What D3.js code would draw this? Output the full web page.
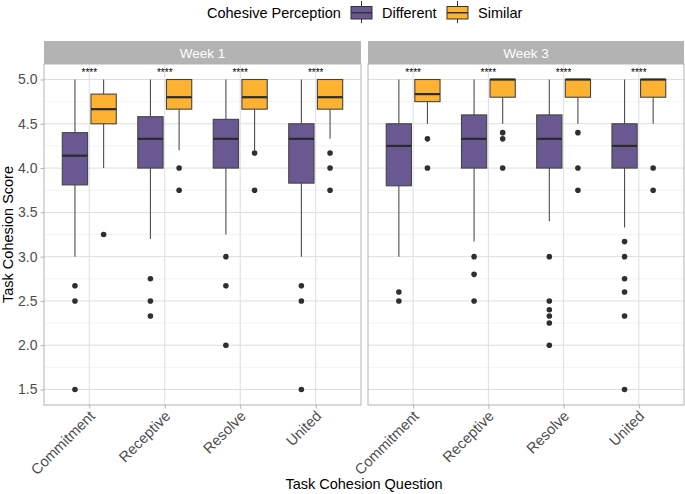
<!DOCTYPE html>
<html><head><meta charset="utf-8">
<script src="https://cdn.jsdelivr.net/npm/d3@7"></script>
<style>body{margin:0;background:#fff}text{font-family:"Liberation Sans",Arial,sans-serif}</style>
</head><body><svg id="c" width="685" height="494"></svg>
<script>
const weeks = ["Week 1", "Week 3"];
const questions = ["Commitment", "Receptive", "Resolve", "United"];
const groups = ["Different", "Similar"];
const groupColors = ["#6A5892", "#FDB231"];
const yTicks = [1.5, 2.0, 2.5, 3.0, 3.5, 4.0, 4.5, 5.0];
const sigLabel = "****";
// box stats: [week, question, group, lowerWhisker, q1, median, q3, upperWhisker]
const boxStats = [
  ["Week 1","Commitment","Different",3.0,3.81,4.14,4.40,5.0],
  ["Week 1","Commitment","Similar",4.0,4.5,4.665,4.835,5.0],
  ["Week 1","Receptive","Different",3.2,4.0,4.33,4.58,5.0],
  ["Week 1","Receptive","Similar",4.2,4.665,4.8,5.0,5.0],
  ["Week 1","Resolve","Different",3.25,4.0,4.33,4.55,5.0],
  ["Week 1","Resolve","Similar",4.2,4.665,4.8,5.0,5.0],
  ["Week 1","United","Different",3.0,3.83,4.33,4.5,5.0],
  ["Week 1","United","Similar",4.33,4.665,4.8,5.0,5.0],
  ["Week 3","Commitment","Different",3.0,3.8,4.25,4.5,5.0],
  ["Week 3","Commitment","Similar",4.5,4.75,4.835,5.0,5.0],
  ["Week 3","Receptive","Different",3.17,4.0,4.33,4.6,5.0],
  ["Week 3","Receptive","Similar",4.5,4.8,5.0,5.0,5.0],
  ["Week 3","Resolve","Different",3.4,4.0,4.33,4.6,5.0],
  ["Week 3","Resolve","Similar",4.5,4.8,5.0,5.0,5.0],
  ["Week 3","United","Different",3.33,4.0,4.25,4.5,5.0],
  ["Week 3","United","Similar",4.5,4.8,5.0,5.0,5.0]
];
// outliers: [week, question, group, value]
const outliers = [
  ["Week 1","Commitment","Different",2.67],["Week 1","Commitment","Different",2.5],["Week 1","Commitment","Different",1.5],
  ["Week 1","Commitment","Similar",3.25],
  ["Week 1","Receptive","Different",2.75],["Week 1","Receptive","Different",2.5],["Week 1","Receptive","Different",2.33],
  ["Week 1","Receptive","Similar",4.0],["Week 1","Receptive","Similar",3.75],
  ["Week 1","Resolve","Different",3.0],["Week 1","Resolve","Different",2.67],["Week 1","Resolve","Different",2.0],
  ["Week 1","Resolve","Similar",4.17],["Week 1","Resolve","Similar",3.75],
  ["Week 1","United","Different",2.67],["Week 1","United","Different",2.5],["Week 1","United","Different",1.5],
  ["Week 1","United","Similar",4.17],["Week 1","United","Similar",4.0],["Week 1","United","Similar",3.75],
  ["Week 3","Commitment","Different",2.6],["Week 3","Commitment","Different",2.5],
  ["Week 3","Commitment","Similar",4.33],["Week 3","Commitment","Similar",4.0],
  ["Week 3","Receptive","Different",3.0],["Week 3","Receptive","Different",2.8],["Week 3","Receptive","Different",2.5],
  ["Week 3","Receptive","Similar",4.4],["Week 3","Receptive","Similar",4.33],["Week 3","Receptive","Similar",4.0],
  ["Week 3","Resolve","Different",3.0],["Week 3","Resolve","Different",2.5],["Week 3","Resolve","Different",2.4],
  ["Week 3","Resolve","Different",2.33],["Week 3","Resolve","Different",2.25],["Week 3","Resolve","Different",2.0],
  ["Week 3","Resolve","Similar",4.4],["Week 3","Resolve","Similar",4.0],["Week 3","Resolve","Similar",3.75],
  ["Week 3","United","Different",3.17],["Week 3","United","Different",3.0],["Week 3","United","Different",2.75],
  ["Week 3","United","Different",2.6],["Week 3","United","Different",2.33],["Week 3","United","Different",1.5],
  ["Week 3","United","Similar",4.0],["Week 3","United","Similar",3.75]
];

const svg = d3.select("#c");
const panelTop = 64, panelBottom = 405, stripTop = 41;
const panels = [{x0:44, x1:361}, {x0:368, x1:684}];
const y = d3.scaleLinear().domain([1.325, 5.175]).range([panelBottom, panelTop]);
const color = d3.scaleOrdinal().domain(groups).range(groupColors);
const minorTicks = d3.range(1.75, 5.0, 0.5);

// legend
const lg = svg.append("g");
lg.append("text").attr("x", 207).attr("y", 18).attr("font-size", 14.5).attr("fill", "#000").text("Cohesive Perception");
const legendX = [351, 447];
const legendTextX = [382, 478];
groups.forEach((g, i) => {
  const cx = legendX[i] + 10.5;
  lg.append("line").attr("x1", cx).attr("x2", cx).attr("y1", 1).attr("y2", 23).attr("stroke", "#333").attr("stroke-width", 1);
  lg.append("rect").attr("x", legendX[i]).attr("y", 6.5).attr("width", 21).attr("height", 12.5)
    .attr("fill", color(g)).attr("stroke", "#333").attr("stroke-width", 1);
  lg.append("line").attr("x1", legendX[i]).attr("x2", legendX[i] + 21).attr("y1", 12.75).attr("y2", 12.75).attr("stroke", "#333").attr("stroke-width", 1.5);
  lg.append("text").attr("x", legendTextX[i]).attr("y", 18).attr("font-size", 14.5).attr("fill", "#000").text(g);
});

weeks.forEach((wk, pi) => {
  const p = panels[pi];
  const x = d3.scalePoint().domain(questions).range([p.x0, p.x1]).padding(0.6);
  const step = x.step();
  const g = svg.append("g");
  // grid
  minorTicks.forEach(t => g.append("line").attr("x1", p.x0).attr("x2", p.x1).attr("y1", y(t)).attr("y2", y(t)).attr("stroke", "#EBEBEB").attr("stroke-width", 0.6));
  yTicks.forEach(t => g.append("line").attr("x1", p.x0).attr("x2", p.x1).attr("y1", y(t)).attr("y2", y(t)).attr("stroke", "#DEDEDE").attr("stroke-width", 1));
  questions.forEach(q => g.append("line").attr("x1", x(q)).attr("x2", x(q)).attr("y1", panelTop).attr("y2", panelBottom).attr("stroke", "#DEDEDE").attr("stroke-width", 1));
  // strip
  g.append("rect").attr("x", p.x0).attr("y", stripTop).attr("width", p.x1 - p.x0).attr("height", panelTop - stripTop).attr("fill", "#B3B3B3");
  g.append("text").attr("x", (p.x0 + p.x1) / 2).attr("y", 57.5).attr("text-anchor", "middle").attr("font-size", 13.5).attr("fill", "#fff").text(wk);
  // boxes
  const off = d3.scaleOrdinal().domain(groups).range([-0.19, 0.19]);
  const bw = 0.335 * step;
  boxStats.filter(d => d[0] === wk).forEach(d => {
    const cx = x(d[1]) + off(d[2]) * step;
    g.append("line").attr("x1", cx).attr("x2", cx).attr("y1", y(d[7])).attr("y2", y(d[6])).attr("stroke", "#4D4D4D").attr("stroke-width", 1.1);
    g.append("line").attr("x1", cx).attr("x2", cx).attr("y1", y(d[4])).attr("y2", y(d[3])).attr("stroke", "#4D4D4D").attr("stroke-width", 1.1);
    g.append("rect").attr("x", cx - bw / 2).attr("y", y(d[6])).attr("width", bw).attr("height", Math.max(0, y(d[4]) - y(d[6])))
      .attr("fill", color(d[2])).attr("stroke", "#444").attr("stroke-width", 1.1);
    g.append("line").attr("x1", cx - bw / 2).attr("x2", cx + bw / 2).attr("y1", y(d[5])).attr("y2", y(d[5])).attr("stroke", "#2b2b2b").attr("stroke-width", 2.2);
  });
  outliers.filter(d => d[0] === wk).forEach(d => {
    const cx = x(d[1]) + off(d[2]) * step;
    g.append("circle").attr("cx", cx).attr("cy", y(d[3])).attr("r", 2.8).attr("fill", "#2f2f2f");
  });
  // significance labels
  questions.forEach(q => g.append("text").attr("x", x(q)).attr("y", 76).attr("text-anchor", "middle").attr("font-size", 10).attr("fill", "#000").text(sigLabel));
  // border
  g.append("rect").attr("x", p.x0).attr("y", panelTop).attr("width", p.x1 - p.x0).attr("height", panelBottom - panelTop).attr("fill", "none").attr("stroke", "#B3B3B3").attr("stroke-width", 1);
  // x axis
  const xa = g.append("g").attr("transform", `translate(0,${panelBottom})`).call(d3.axisBottom(x).tickSize(3.5).tickPadding(3));
  xa.select(".domain").remove();
  xa.selectAll(".tick line").attr("stroke", "#B3B3B3");
  xa.selectAll(".tick text").attr("font-size", 14.7).attr("fill", "#4D4D4D").attr("font-family", "Liberation Sans, Arial, sans-serif")
    .attr("text-anchor", "end").attr("dy", null).attr("y", 0)
    .attr("transform", "translate(6,12) rotate(-45)");
  if (pi === 0) {
    const ya = g.append("g").attr("transform", `translate(${p.x0},0)`).call(d3.axisLeft(y).tickValues(yTicks).tickFormat(d3.format(".1f")).tickSize(3.5).tickPadding(3));
    ya.select(".domain").remove();
    ya.selectAll(".tick line").attr("stroke", "#B3B3B3");
    ya.selectAll(".tick text").attr("font-size", 14).attr("fill", "#4D4D4D").attr("font-family", "Liberation Sans, Arial, sans-serif");
  }
});

svg.append("text").attr("transform", `translate(13,${(panelTop + panelBottom) / 2}) rotate(-90)`).attr("text-anchor", "middle").attr("font-size", 14.5).attr("fill", "#000").text("Task Cohesion Score");
svg.append("text").attr("x", 364).attr("y", 489).attr("text-anchor", "middle").attr("font-size", 14.5).attr("fill", "#000").text("Task Cohesion Question");
</script></body></html>
